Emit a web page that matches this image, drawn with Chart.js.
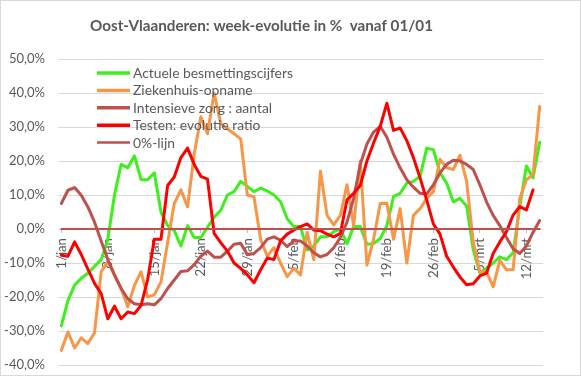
<!DOCTYPE html>
<html><head><meta charset="utf-8">
<script src="https://cdn.jsdelivr.net/npm/chart.js@4/dist/chart.umd.min.js"></script>
<style>html,body{margin:0;padding:0;background:#fff;overflow:hidden}canvas{display:block}</style>
</head><body><canvas id="c" width="581" height="376"></canvas>
<script>
const chartTitle = 'Oost-Vlaanderen: week-evolutie in %  vanaf 01/01';
const categories = [
 '1/jan','2/jan','3/jan','4/jan','5/jan','6/jan','7/jan','8/jan','9/jan','10/jan','11/jan','12/jan','13/jan','14/jan','15/jan','16/jan',
 '17/jan','18/jan','19/jan','20/jan','21/jan','22/jan','23/jan','24/jan','25/jan','26/jan','27/jan','28/jan','29/jan','30/jan','31/jan',
 '1/feb','2/feb','3/feb','4/feb','5/feb','6/feb','7/feb','8/feb','9/feb','10/feb','11/feb','12/feb','13/feb','14/feb','15/feb','16/feb',
 '17/feb','18/feb','19/feb','20/feb','21/feb','22/feb','23/feb','24/feb','25/feb','26/feb','27/feb','28/feb',
 '1/mrt','2/mrt','3/mrt','4/mrt','5/mrt','6/mrt','7/mrt','8/mrt','9/mrt','10/mrt','11/mrt','12/mrt','13/mrt','14/mrt'];
const tickLabels = ['1/jan','8/jan','15/jan','22/jan','29/jan','5/feb','12/feb','19/feb','26/feb','5/mrt','12/mrt'];
const yTicks = [-40,-30,-20,-10,0,10,20,30,40,50];
const seriesNames = ['Actuele besmettingscijfers','Ziekenhuis-opname','Intensieve zorg : aantal','Testen: evolutie ratio','0%-lijn'];

const actueleBesmettingscijfers = [
 -28.5,-21,-16.5,-14.5,-13,-11,-9,-3,10,19,18,21.5,14.5,14.5,16.5,5,1,-0.5,-5,1,-2.5,-2.5,0.5,3.5,5.5,10,11,14,12.5,11,12,11.2,10,8,3,0.7,
 0.7,-6.2,-5,-2.3,-2.3,-0.8,0,-4.3,0.7,0.7,-4.5,-4.3,-2.8,1,9.5,10.5,13.5,14,15.5,23.8,23.3,16.5,13.5,8,9,6.8,-6,-13,-11.5,-10,-8.2,-9,-7,6.5,18.5,15,25.5];
const ziekenhuisOpname = [
 -35.7,-30.3,-35,-32,-33.7,-30.5,-12.5,-9.5,-13.6,-17.5,-22.9,-16.6,-12.6,-20,-19.3,-15.6,-4,7.5,11.5,6.5,22,33,28,40,31,29.5,28,26.5,10,9.5,-3,-8,-5.5,-10,-14,-11.5,
 -13.5,-1,-9,17,4,1.2,4,13,1,20,-10.6,-3,7.5,7.6,-3,6,-10,4,6,9,11,20.5,18,17.5,21.7,14,-3.7,-12.6,-12.6,-17,-9.2,-12,-12,9,14.5,16,36];
const intensieveZorg = [
 7.5,11.4,12.2,9.9,6.5,2,-3.5,-9,-13.5,-17.5,-20.5,-22,-22.3,-22,-22.3,-20.5,-17.5,-15,-12.5,-12.3,-10.5,-8,-6.5,-8.3,-8.3,-6.5,-4.5,-4.2,-7.6,-7.2,-5.5,-3,-2.3,-3.3,-5.2,-3.5,
 -3.5,-5,-7,-8.2,-7.5,-5.5,-2.5,2,9,19,25,28.5,30.2,27,22,18,14.5,12.3,10.5,10.3,13,16.5,19,20.2,20,19,17.5,13,8,4,1,-2.5,-5.8,-7.2,-5,-1,2.5];
const testenEvolutieRatio = [
 -7.7,-8,-3.8,-7.5,-11.8,-16,-19,-26.4,-22.7,-26.4,-24.4,-24.9,-22.5,-14.8,-3,-3,12.8,15.3,21,23.8,19,15.5,14.7,-1.3,-4,-6.5,-10,-11.6,-13.5,-15.8,-12,-8.5,-9,-3.5,-1.5,-0.3,
 0.7,1.5,-0.3,-0.5,-1.5,-2.3,-1.3,8.6,10.5,12.8,20,25.3,30.2,37,29,29.7,26,21,15,8.5,1.5,-1.5,-8,-11.2,-14.1,-16.4,-16.1,-13.8,-13,-7.2,-3.8,-0.8,4.1,6.6,5.6,11.5,null];
const nulLijn = [
 0,0,0,0,0,0,0,0,0,0,0,0,0,0,0,0,0,0,0,0,0,0,0,0,0,0,0,0,0,0,0,0,0,0,0,0,
 0,0,0,0,0,0,0,0,0,0,0,0,0,0,0,0,0,0,0,0,0,0,0,0,0,0,0,0,0,0,0,0,0,0,0,0,0];

const colors = ['#3cf01c','#f79646','#c0504d','#ff0000','#c0504d'];
const widths = [3,3,3,3,2];
const textColor = '#595959';
const FAMILY = 'Lato';

const mctx = document.createElement('canvas').getContext('2d');
function fit(text, weight, target){ mctx.font = weight+' 100px '+FAMILY; return 100*target/mctx.measureText(text).width; }
const titleSize = fit(chartTitle,'bold',343);
const legendSize = fit(seriesNames[0],'normal',160);
const ySize = fit('-40,0%','normal',41);
const xSize = fit('12/feb','normal',40);

const seriesData = [actueleBesmettingscijfers, ziekenhuisOpname, intensieveZorg, testenEvolutieRatio, nulLijn];
const datasets = seriesData.map((d,k)=>({
  label: seriesNames[k], data: d, borderColor: colors[k], backgroundColor: colors[k],
  borderWidth: widths[k], pointRadius: 0, tension: 0, fill: false, spanGaps: false,
  borderJoinStyle: 'round', borderCapStyle: 'round', order: 5-k
}));

const decor = {
  id: 'decor',
  afterDraw(chart){
    const ctx = chart.ctx;
    ctx.save();
    ctx.fillStyle = textColor;
    ctx.font = 'bold '+titleSize.toFixed(2)+'px '+FAMILY;
    ctx.textAlign = 'left'; ctx.textBaseline = 'alphabetic';
    ctx.fillText(chartTitle, 90, 30.5);
    ctx.font = legendSize.toFixed(2)+'px '+FAMILY;
    for (let k=0;k<seriesNames.length;k++){
      const y = 73 + k*17.4;
      ctx.strokeStyle = colors[k]; ctx.lineWidth = widths[k]+0.5; ctx.lineCap = 'butt';
      ctx.beginPath(); ctx.moveTo(97,y); ctx.lineTo(130,y); ctx.stroke();
      ctx.fillStyle = textColor;
      ctx.fillText(seriesNames[k], 133, y+5);
    }
    ctx.strokeStyle = '#d9d9d9'; ctx.lineWidth = 1;
    ctx.strokeRect(0.5,0.5,chart.width-1,chart.height-1);
    ctx.restore();
  }
};

const chart = new Chart(document.getElementById('c'), {
  type: 'line',
  data: { labels: categories, datasets },
  plugins: [decor],
  options: {
    responsive: false, animation: false, devicePixelRatio: 1,
    layout: { padding: { left: 0, top: 59, right: 38, bottom: 11 } },
    plugins: { legend: { display: false }, title: { display: false }, tooltip: { enabled: false } },
    scales: {
      x: {
        type: 'category', offset: true, position: { y: 0 },
        border: { display: false },
        afterFit: (s) => { s.paddingTop = 0; s.paddingBottom = 0; s.paddingLeft = 0; s.paddingRight = 0; },
        grid: { drawOnChartArea: false, drawTicks: true, tickLength: 4, offset: false,
          color: (c) => (c.tick && tickLabels.includes(c.tick.label)) ? '#bfbfbf' : 'rgba(0,0,0,0)' },
        ticks: { autoSkip: false, maxRotation: 90, minRotation: 90, padding: 5, color: textColor,
          font: { family: FAMILY, size: xSize },
          callback: function(v, i){ const l = categories[i]; return tickLabels.includes(l) ? l : ''; } }
      },
      y: {
        min: -40, max: 50,
        afterBuildTicks: (s) => { s.ticks = yTicks.map(v => ({ value: v })); },
        afterFit: (s) => { s.width = 58; s.paddingTop = 0; s.paddingBottom = 0; },
        border: { display: false },
        grid: { color: '#d9d9d9', lineWidth: 1, drawTicks: false },
        ticks: { padding: 13, color: textColor, font: { family: FAMILY, size: ySize },
          callback: (v) => v.toFixed(1).replace('.', ',') + '%' }
      }
    }
  }
});
const target = { left: 58, top: 59, right: 543, bottom: 365 };
function fixArea(){
  const a = chart.chartArea, p = chart.options.layout.padding;
  p.left += target.left - a.left; p.top += target.top - a.top;
  p.right += a.right - target.right; p.bottom += a.bottom - target.bottom;
  chart.update('none');
}
fixArea(); fixArea();
</script>
</body></html>
